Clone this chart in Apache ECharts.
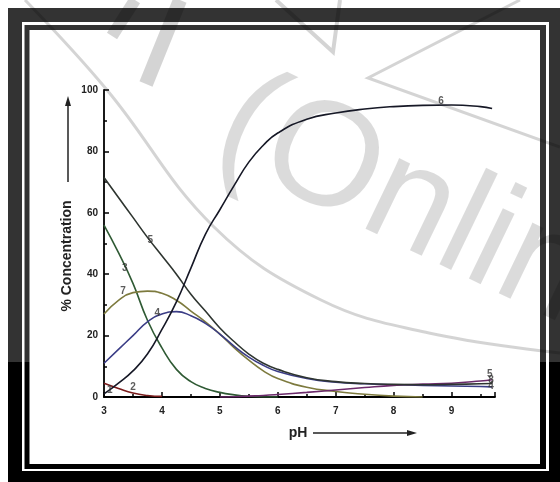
<!DOCTYPE html>
<html>
<head>
<meta charset="utf-8">
<script src="https://cdn.jsdelivr.net/npm/echarts@6/dist/echarts.min.js"></script>
<style>
  html, body { margin: 0; padding: 0; background: #fff; }
  #chart { width: 560px; height: 482px; }
</style>
</head>
<body>
<div id="chart"></div>
<script>
// pH grid shared by all curves
const phValues = [3, 3.25, 3.5, 3.75, 4, 4.25, 4.5, 4.75, 5, 5.25, 5.5, 5.75, 6, 6.5, 7, 7.5, 8, 8.5, 9, 9.5, 9.7]

// % concentration of each species (null = not drawn)
const curve1 = [4.5, 2.8, 1.3, 0.5, 0.2, null, null, null, null, null, null, null, null, null, null, null, null, null, null, null, null]
const curve3 = [56, 47, 37, 25, 16, 9, 5, 2.8, 1.5, 0.7, 0.2, 0, 0, null, null, null, null, null, null, null, null]
const curve4 = [11, 15.5, 20, 24.5, 27, 27.8, 26.5, 24, 20.5, 16.5, 13, 10.3, 8.3, 6, 4.8, 4.3, 4, 3.8, 3.6, 3.4, 3.3]
const curve5 = [71.5, 65, 58.5, 52, 46, 40, 33.5, 28, 22.5, 18, 14, 11, 9, 6.3, 5, 4.4, 4.1, 4, 4.1, 4.3, 4.4]
const curve6 = [1, 4.5, 8.5, 14, 22, 31, 42, 53, 61, 69, 76.5, 82, 86, 90.5, 92.5, 93.8, 94.6, 95, 95.1, 94.6, 94]
const curve7 = [27, 31.5, 34, 34.5, 33.8, 31.5, 28, 24.5, 20.5, 16, 12, 8.5, 6, 3.2, 1.8, 0.9, 0.3, 0, null, null, null]
const curve8 = [null, null, null, null, null, null, null, null, 0, 0.1, 0.3, 0.5, 0.8, 1.5, 2.3, 3.1, 3.8, 4.2, 4.5, 5.2, 5.6]

// curve number labels [text, pH, %]
const curveLabels = [
  ['6', 8.82, 96.3], ['5', 3.8, 51], ['3', 3.36, 42], ['7', 3.33, 34.3],
  ['4', 3.92, 27.4], ['2', 3.5, 3.2], ['1', 3.1, 2.2],
  ['5', 9.66, 7.4], ['8', 9.68, 5.4], ['4', 9.68, 3.4]
]

const xTicks = { min: 3, max: 9.75, interval: 1 }
const yTicks = { min: 0, max: 100, interval: 20 }

const toPairs = vals => phValues.map((x, i) => vals[i] == null ? null : [x, vals[i]]).filter(p => p)

const myChart = echarts.init(document.getElementById('chart'))

const lineSeries = (vals, color) => ({
  type: 'line',
  data: toPairs(vals),
  smooth: true,
  symbol: 'none',
  lineStyle: { color: color, width: 1.6 },
  z: 3
})

const wm = 'rgba(0,0,0,0.17)'

const option = {
  animation: false,
  backgroundColor: '#fff',
  grid: { left: 104, right: 65, top: 90, bottom: 85 },
  xAxis: {
    type: 'value',
    min: xTicks.min,
    max: xTicks.max,
    interval: xTicks.interval,
    axisLine: { lineStyle: { color: '#000', width: 1.8 } },
    axisTick: { inside: true, length: 5, lineStyle: { color: '#000', width: 1.5 } },
    minorTick: { show: true, splitNumber: 2, length: 3, lineStyle: { color: '#000', width: 1.5 } },
    axisLabel: {
      color: '#222', fontSize: 10, fontWeight: 'bold', fontFamily: 'Liberation Sans', margin: 9,
      showMaxLabel: false,
      formatter: v => Number.isInteger(v) ? String(v) : ''
    },
    splitLine: { show: false }
  },
  yAxis: {
    type: 'value',
    min: yTicks.min,
    max: yTicks.max,
    interval: yTicks.interval,
    axisLine: { show: true, lineStyle: { color: '#000', width: 1.8 } },
    axisTick: { show: true, inside: true, length: 5, lineStyle: { color: '#000', width: 1.5 } },
    minorTick: { show: true, splitNumber: 2, length: 3, lineStyle: { color: '#000', width: 1.5 } },
    axisLabel: { color: '#222', fontSize: 10, fontWeight: 'bold', fontFamily: 'Liberation Sans', margin: 6 },
    splitLine: { show: false }
  },
  graphic: [
    // frame
    { type: 'rect', z: -20, shape: { x: 8, y: 8, width: 552, height: 474 }, style: { fill: '#000' } },
    { type: 'rect', z: -19, shape: { x: 22, y: 22, width: 527, height: 449 }, style: { fill: '#fff' } },
    { type: 'rect', z: -18, shape: { x: 24.5, y: 25, width: 521.5, height: 444 }, style: { fill: '#000' } },
    { type: 'rect', z: -17, shape: { x: 29.5, y: 30, width: 510.5, height: 434 }, style: { fill: '#fff' } },
    { type: 'rect', z: -16, shape: { x: 0, y: 0, width: 560, height: 362 }, style: { fill: 'rgba(255,255,255,0.2)' } },
    // watermark
    { type: 'text', z: -10, x: 226, y: 116, rotation: -0.45,
      style: { text: '(Onlin', fontSize: 148, fontFamily: 'Liberation Sans Narrow, Liberation Sans', fill: 'rgba(0,0,0,0.14)', align: 'left', verticalAlign: 'middle' } },
    { type: 'polyline', z: -10, shape: { points: [[25, 0], [107, 90], [214, 227], [321, 300], [429, 333], [560, 353]], smooth: 0.4 },
      style: { stroke: wm, lineWidth: 3, fill: null } },
    { type: 'polyline', z: -10, shape: { points: [[520, 0], [368, 78], [560, 147]] },
      style: { stroke: wm, lineWidth: 3, fill: null } },
    { type: 'polyline', z: -10, shape: { points: [[146, 84], [180, 0]] },
      style: { stroke: wm, lineWidth: 14, fill: null } },
    { type: 'polyline', z: -10, shape: { points: [[112, 36], [135, 0]] },
      style: { stroke: wm, lineWidth: 12, fill: null } },
    { type: 'polyline', z: -10, shape: { points: [[276, 0], [333, 52], [340, 0]] },
      style: { stroke: wm, lineWidth: 4, fill: null } },
    // axis names with arrows
    { type: 'text', x: 67, y: 256, rotation: Math.PI / 2,
      style: { text: '% Concentration', fontSize: 14, fontWeight: 'bold', fontFamily: 'Liberation Sans', fill: '#222', align: 'center', verticalAlign: 'middle' } },
    { type: 'line', shape: { x1: 68, y1: 182, x2: 68, y2: 102 }, style: { stroke: '#222', lineWidth: 1.5 } },
    { type: 'polygon', shape: { points: [[68, 96], [65, 106], [71, 106]] }, style: { fill: '#222' } },
    { type: 'text', x: 298, y: 433,
      style: { text: 'pH', fontSize: 14, fontWeight: 'bold', fontFamily: 'Liberation Sans', fill: '#222', align: 'center', verticalAlign: 'middle' } },
    { type: 'line', shape: { x1: 313, y1: 433, x2: 410, y2: 433 }, style: { stroke: '#222', lineWidth: 1.5 } },
    { type: 'polygon', shape: { points: [[417, 433], [407, 430], [407, 436]] }, style: { fill: '#222' } }
  ],
  series: [
    lineSeries(curve1, '#7a1c1c'),
    lineSeries(curve3, '#2f5a34'),
    lineSeries(curve7, '#7d7a3e'),
    lineSeries(curve4, '#3b3d86'),
    lineSeries(curve8, '#6b2a6b'),
    lineSeries(curve5, '#2e3530'),
    lineSeries(curve6, '#161826'),
    {
      type: 'scatter',
      symbolSize: 0,
      z: 5,
      data: curveLabels.map(d => ({ name: d[0], value: [d[1], d[2]] })),
      label: {
        show: true, position: 'inside', formatter: p => p.name,
        fontSize: 10, fontWeight: 'bold', fontFamily: 'Liberation Sans', color: '#333'
      }
    }
  ]
}

myChart.setOption(option)
</script>
</body>
</html>
